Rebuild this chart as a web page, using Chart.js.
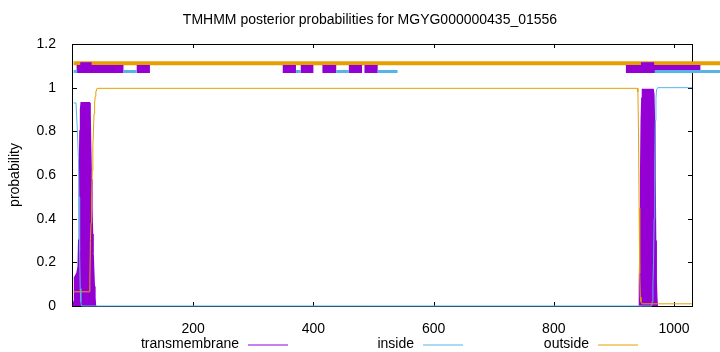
<!DOCTYPE html>
<html>
<head>
<meta charset="utf-8">
<title>TMHMM posterior probabilities</title>
<script src="https://cdn.jsdelivr.net/npm/chart.js@4.4.1/dist/chart.umd.min.js"></script>
<style>
  html, body { margin: 0; padding: 0; background: #fff; }
  canvas { display: block; }
</style>
</head>
<body>
<canvas id="chart" width="720" height="352"></canvas>
<script>
const seqName = 'MGYG000000435_01556';
const seriesNames = ['transmembrane', 'inside', 'outside'];
const seriesColors = ['#9400d3', '#56b4e9', '#e69f00'];

const xTicks = [200, 400, 600, 800, 1000];
const yTicks = [0, 0.2, 0.4, 0.6, 0.8, 1, 1.2];

// posterior probabilities, read off the plot where they change (null = no impulse)
const tmPos  = [1, 2, 3, 7, 9, 10, 11, 12, 13, 14, 27, 28, 29, 30, 31, 32, 33, 34, 35, 36, 37,
                500,
                942, 943, 944, 945, 946, 947, 948, 965, 966, 967, 968, 969, 970, 971, 972];
const tmProb = [0, 0.02, 0.13, 0.15, 0.18, 0.3, 0.55, 0.8, 0.9, 0.93, 0.93, 0.88, 0.72, 0.58, 0.45, 0.33, 0.24, 0.16, 0.09, 0.04, 0,
                null,
                0, 0.1, 0.3, 0.6, 0.85, 0.95, 0.99, 0.99, 0.97, 0.85, 0.6, 0.3, 0.12, 0.03, 0];

const insidePos  = [1, 5, 7, 9, 10, 11, 12, 13, 14, 963, 964, 965, 966, 967, 968, 969, 970, 971, 973, 1030];
const insideProb = [0.93, 0.93, 0.82, 0.68, 0.5, 0.25, 0.08, 0.02, 0, 0, 0.02, 0.1, 0.2, 0.4, 0.65, 0.85, 0.95, 0.99, 1, 1];

const outsidePos  = [1, 27, 28, 29, 30, 31, 32, 33, 34, 35, 36, 37, 38, 40, 939, 940, 941, 942, 943, 944, 945, 947, 1030];
const outsideProb = [0.065, 0.065, 0.1, 0.3, 0.38, 0.5, 0.62, 0.73, 0.8, 0.88, 0.93, 0.96, 0.98, 0.997, 0.997, 0.98, 0.8, 0.45, 0.15, 0.04, 0.02, 0.01, 0.01];

// topology bar above the curves: residue ranges
const outsideBandFrom = [1];
const outsideBandTo   = [1078];
const tmBandFrom = [6, 106, 349, 379, 415, 459, 485, 920, 1053];
const tmBandTo   = [84, 128, 371, 400, 438, 481, 507, 1044, 1078];
const helixFrom  = [12, 945];
const helixTo    = [31, 967];
const insideBandFrom = [1, 84, 371, 438, 507, 968];
const insideBandTo   = [7, 106, 379, 459, 540, 1078];

const outsideLevel = 1.112;
const helixLevel = 1.098;
const tmLevel = 1.085;
const insideLevel = 1.074;

function series(pos, prob) {
  return pos.map((x, i) => ({ x: x, y: prob[i] }));
}

function band(from, to, level) {
  const pts = [];
  from.forEach((f, i) => {
    pts.push({ x: f, y: level }, { x: to[i], y: level }, { x: to[i], y: null });
  });
  return pts;
}

const FONT = '"Liberation Sans", Arial, sans-serif';
Chart.defaults.font.family = FONT;
Chart.defaults.font.size = 14;
Chart.defaults.color = '#000';

// gnuplot style frame with inward ticks
const frame = {
  id: 'frame',
  beforeDatasetsDraw(chart) {
    const { ctx, chartArea: a, scales } = chart;
    const xs = scales.x, ys = scales.y;
    ctx.save();
    ctx.strokeStyle = '#000';
    ctx.lineWidth = 1;
    ctx.strokeRect(a.left - 0.5, a.top + 0.5, a.right - a.left + 1, a.bottom - a.top);
    ctx.beginPath();
    xs.ticks.forEach(t => {
      const px = Math.round(xs.getPixelForValue(t.value)) + 0.5;
      ctx.moveTo(px, a.bottom); ctx.lineTo(px, a.bottom - 4);
      ctx.moveTo(px, a.top); ctx.lineTo(px, a.top + 4);
    });
    ys.ticks.forEach(t => {
      const py = Math.round(ys.getPixelForValue(t.value)) + 0.5;
      ctx.moveTo(a.left, py); ctx.lineTo(a.left + 4, py);
      ctx.moveTo(a.right, py); ctx.lineTo(a.right - 4, py);
    });
    ctx.stroke();
    ctx.restore();
  }
};

// key: text first, then line sample, like gnuplot
const keyRight = 288, keyStep = 175, keyY = 344;
const key = {
  id: 'key',
  afterDraw(chart) {
    const { ctx } = chart;
    ctx.save();
    ctx.font = '14px ' + FONT;
    ctx.textAlign = 'right';
    ctx.textBaseline = 'middle';
    ctx.lineWidth = 1;
    seriesNames.forEach((name, i) => {
      const end = keyRight + i * keyStep;
      ctx.fillStyle = '#000';
      ctx.fillText(name, end - 49, keyY);
      ctx.strokeStyle = seriesColors[i];
      ctx.beginPath();
      ctx.moveTo(end - 40, keyY + 1);
      ctx.lineTo(end, keyY + 1);
      ctx.stroke();
    });
    ctx.restore();
  }
};

const common = { showLine: true, pointRadius: 0, pointHoverRadius: 0, tension: 0, spanGaps: false, borderCapStyle: 'butt' };

new Chart(document.getElementById('chart'), {
  type: 'scatter',
  data: {
    datasets: [
      { ...common, label: 'inside band', data: band(insideBandFrom, insideBandTo, insideLevel),
        borderColor: seriesColors[1], borderWidth: 3, clip: false, order: 0 },
      { ...common, label: 'helix band', data: band(helixFrom, helixTo, helixLevel),
        borderColor: seriesColors[0], borderWidth: 8, clip: false, order: 1 },
      { ...common, label: 'tm band', data: band(tmBandFrom, tmBandTo, tmLevel),
        borderColor: seriesColors[0], borderWidth: 8, clip: false, order: 2 },
      { ...common, label: 'outside band', data: band(outsideBandFrom, outsideBandTo, outsideLevel),
        borderColor: seriesColors[2], borderWidth: 4, clip: false, order: 3 },
      { ...common, label: seriesNames[2], data: series(outsidePos, outsideProb),
        borderColor: seriesColors[2], borderWidth: 1, clip: 3, order: 4 },
      { ...common, label: seriesNames[1], data: series(insidePos, insideProb),
        borderColor: seriesColors[1], borderWidth: 1, clip: 3, order: 5 },
      { ...common, label: seriesNames[0], data: series(tmPos, tmProb),
        borderColor: seriesColors[0], backgroundColor: seriesColors[0], borderWidth: 2,
        fill: 'origin', clip: 3, order: 6 }
    ]
  },
  options: {
    responsive: false,
    animation: false,
    events: [],
    layout: { padding: { left: 20, right: 0, top: 0, bottom: 0 } },
    plugins: {
      legend: { display: false },
      tooltip: { enabled: false },
      title: {
        display: true,
        text: 'TMHMM posterior probabilities for ' + seqName,
        font: { size: 14, weight: 'normal' },
        color: '#000',
        padding: { top: 12, bottom: 15.2 }
      }
    },
    scales: {
      x: {
        type: 'linear',
        position: 'bottom',
        min: 0,
        max: 1030,
        grid: { display: false },
        border: { display: false },
        afterBuildTicks: s => { s.ticks = xTicks.map(v => ({ value: v })); },
        ticks: { padding: 7, callback: v => String(v) },
        afterFit: s => { s.height = 46; }
      },
      y: {
        type: 'linear',
        position: 'left',
        min: 0,
        max: 1.2,
        grid: { display: false },
        border: { display: false },
        afterBuildTicks: s => { s.ticks = yTicks.map(v => ({ value: v })); },
        ticks: { padding: 9, callback: v => String(v) },
        title: { display: true, text: 'probability', padding: { top: -13.4, bottom: 0 } },
        afterFit: s => { s.width = 53; }
      },
      y2: {
        type: 'linear',
        position: 'right',
        min: 0,
        max: 1.2,
        grid: { display: false },
        border: { display: false },
        ticks: { display: false },
        afterFit: s => { s.width = 28; }
      }
    }
  },
  plugins: [frame, key]
});
</script>
</body>
</html>
